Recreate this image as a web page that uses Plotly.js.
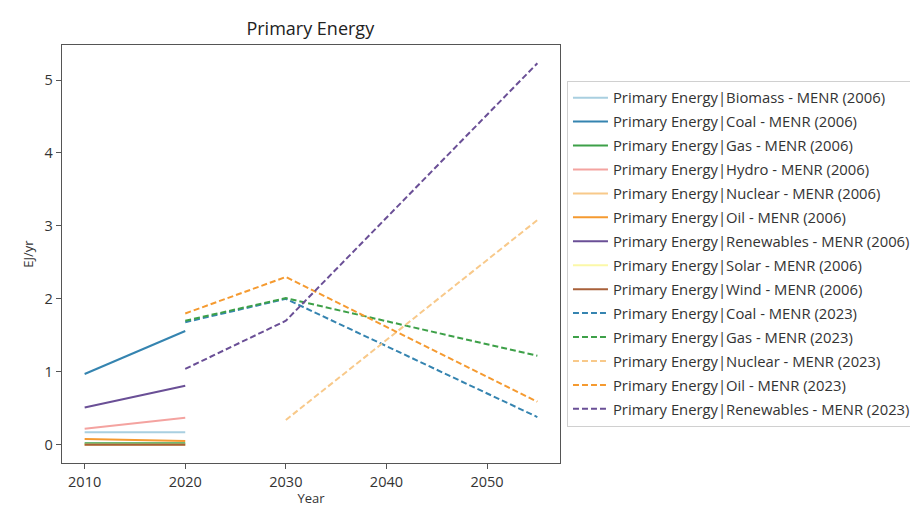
<!DOCTYPE html>
<html>
<head>
<meta charset="utf-8">
<script src="https://cdn.plot.ly/plotly-3.0.1.min.js"></script>
<style>html,body{margin:0;padding:0;background:#fff;}#chart{width:910px;height:507px;}</style>
</head>
<body>
<div id="chart"></div>
<script>
// Years
const years2006 = [2010, 2020];
const years2023 = [2020, 2030, 2055];
const years2023Nuclear = [2030, 2055];

// MENR (2006) series
const biomass2006 = [0.17, 0.17];
const coal2006 = [0.97, 1.56];
const gas2006 = [0.02, 0.02];
const hydro2006 = [0.22, 0.37];
const nuclear2006 = [0.0, 0.0];
const oil2006 = [0.08, 0.05];
const renewables2006 = [0.51, 0.81];
const solar2006 = [0.0, 0.0];
const wind2006 = [0.0, 0.0];

// MENR (2023) series
const coal2023 = [1.68, 2.00, 0.38];
const gas2023 = [1.70, 2.01, 1.22];
const nuclear2023 = [0.34, 3.08];
const oil2023 = [1.80, 2.30, 0.59];
const renewables2023 = [1.04, 1.70, 5.23];

const yTicks = [0, 1, 2, 3, 4, 5];
const xTicks = [2010, 2020, 2030, 2040, 2050];

const C = {
  biomass: '#a9cfe0', coal: '#3584b0', gas: '#3da048', hydro: '#f4a3a0',
  nuclear: '#f8c98a', oil: '#f59a30', renewables: '#6a4f96', solar: '#fbf8a8', wind: '#a8603a'
};

function tr(name, x, y, color, dash, i) {
  return {
    type: 'scatter', mode: 'lines', name: name, x: x, y: y,
    legendgroup: 'g' + i,
    line: {color: color, width: 2, dash: dash ? '6px,3px' : 'solid'},
    hoverinfo: 'skip'
  };
}

const data = [
  tr('Primary Energy|Biomass - MENR (2006)', years2006, biomass2006, C.biomass, false, 0),
  tr('Primary Energy|Coal - MENR (2006)', years2006, coal2006, C.coal, false, 1),
  tr('Primary Energy|Gas - MENR (2006)', years2006, gas2006, C.gas, false, 2),
  tr('Primary Energy|Hydro - MENR (2006)', years2006, hydro2006, C.hydro, false, 3),
  tr('Primary Energy|Nuclear - MENR (2006)', years2006, nuclear2006, C.nuclear, false, 4),
  tr('Primary Energy|Oil - MENR (2006)', years2006, oil2006, C.oil, false, 5),
  tr('Primary Energy|Renewables - MENR (2006)', years2006, renewables2006, C.renewables, false, 6),
  tr('Primary Energy|Solar - MENR (2006)', years2006, solar2006, C.solar, false, 7),
  tr('Primary Energy|Wind - MENR (2006)', years2006, wind2006, C.wind, false, 8),
  tr('Primary Energy|Coal - MENR (2023)', years2023, coal2023, C.coal, true, 9),
  tr('Primary Energy|Gas - MENR (2023)', years2023, gas2023, C.gas, true, 10),
  tr('Primary Energy|Nuclear - MENR (2023)', years2023Nuclear, nuclear2023, C.nuclear, true, 11),
  tr('Primary Energy|Oil - MENR (2023)', years2023, oil2023, C.oil, true, 12),
  tr('Primary Energy|Renewables - MENR (2023)', years2023, renewables2023, C.renewables, true, 13)
];

const axisCommon = {
  showline: true, mirror: true, linecolor: '#555', linewidth: 1.4,
  showgrid: false, zeroline: false, ticks: 'outside', ticklen: 5, tickcolor: '#555',
  tickfont: {family: 'Open Sans, sans-serif', size: 14.5, color: '#333'}
};

const layout = {
  width: 910, height: 507,
  paper_bgcolor: '#fff', plot_bgcolor: '#fff',
  margin: {l: 62, r: 350, t: 45, b: 44, autoexpand: false},
  font: {family: 'Open Sans, sans-serif', color: '#333'},
  title: {text: 'Primary Energy', x: 0.341, xanchor: 'center', y: 0.943, yanchor: 'middle',
          font: {family: 'Open Sans, sans-serif', size: 18, color: '#222'}},
  xaxis: Object.assign({}, axisCommon, {
    automargin: true,
    range: [2007.75, 2057.25], tickvals: xTicks, ticktext: xTicks.map(String),
    title: {text: 'Year', standoff: 8, font: {family: 'Open Sans, sans-serif', size: 13, color: '#333'}}
  }),
  yaxis: Object.assign({}, axisCommon, {
    range: [-0.25, 5.48], tickvals: yTicks, ticktext: yTicks.map(String),
    title: {text: 'EJ/yr', standoff: 8, font: {family: 'Open Sans, sans-serif', size: 13, color: '#333'}}
  }),
  showlegend: true,
  legend: {
    x: 1.014, xanchor: 'left', y: 0.915, yanchor: 'top',
    bordercolor: '#d0d0d0', borderwidth: 1, bgcolor: '#fff',
    traceorder: 'grouped', tracegroupgap: 1.7, itemwidth: 35,
    font: {family: 'Open Sans, sans-serif', size: 14.8, color: '#333'}
  }
};

Plotly.newPlot('chart', data, layout, {staticPlot: true, displayModeBar: false});
</script>
</body>
</html>
